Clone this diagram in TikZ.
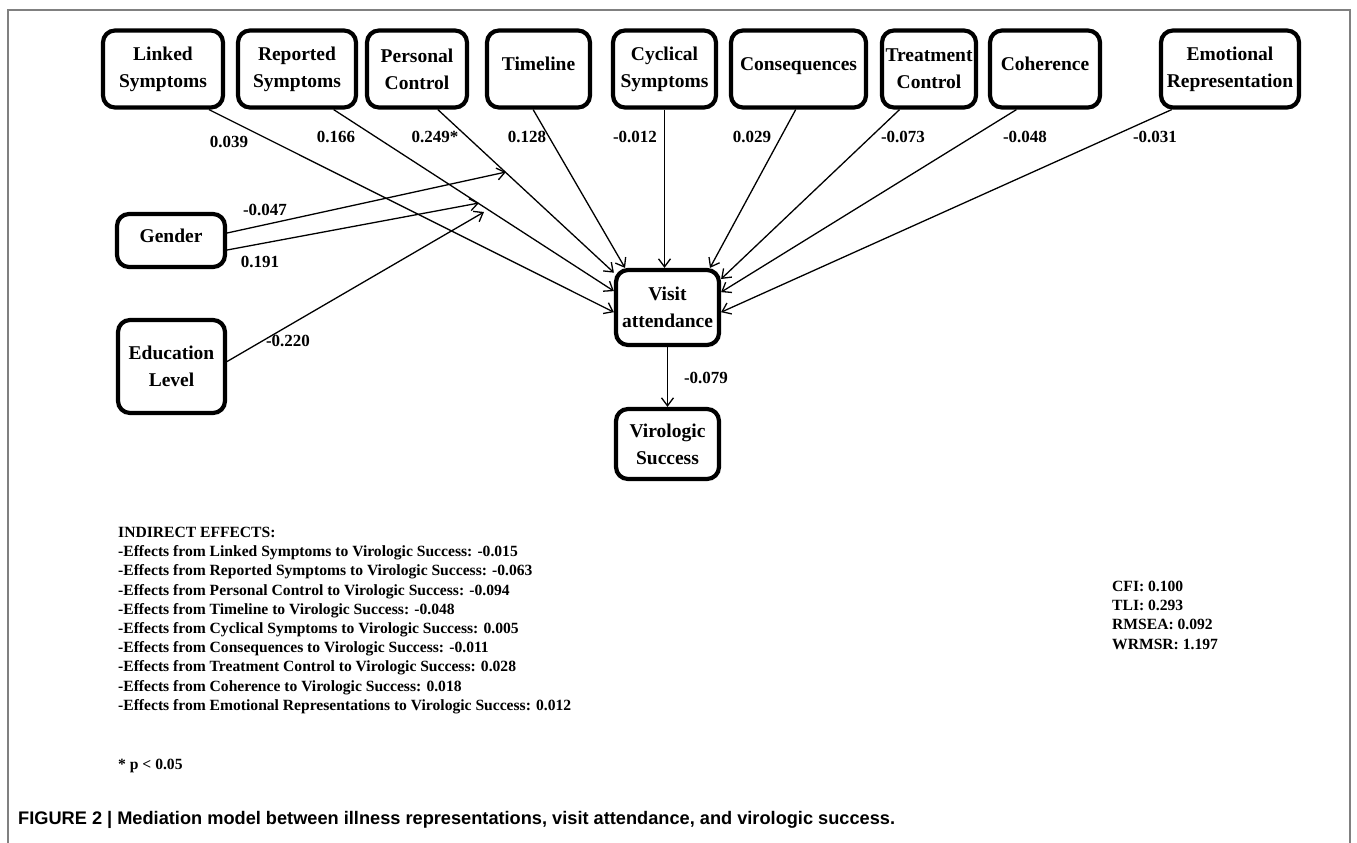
\documentclass[tikz,border=0pt]{standalone}
\usepackage{fontspec}
\setmainfont{Liberation Serif}
\newfontfamily\capfont{Liberation Sans}
\usetikzlibrary{arrows.meta,calc}

\tikzset{
  var/.style={draw, line width=4.2pt, rounded corners=12pt, inner sep=0pt, align=center,
    font=\fontsize{19.5}{27}\selectfont\bfseries, minimum height=77pt},
  oneline/.style={text height=14pt, text depth=11pt},
  coef/.style={font=\fontsize{17}{19}\selectfont\bfseries, inner sep=0pt},
  effect/.style={line width=1.3pt, -{Straight Barb[length=8pt,width=12pt]}},
  notes/.style={font=\fontsize{15.6}{19.2}\selectfont\bfseries, align=left, inner sep=0pt, anchor=north west},
}

\begin{document}
\begin{tikzpicture}[x=1pt,y=-1pt]
	\useasboundingbox (0,0) rectangle (1357,843);
	\draw [line width=2pt, gray] (8,843) -- (8,10) -- (1350,10) -- (1350,843);

	% illness representations
	\node [var, minimum width=120pt] (lnk) at (163,69) {Linked\\Symptoms};
	\node [var, minimum width=118pt] (rep) at (297,69) {Reported\\Symptoms};
	\node [var, minimum width=100pt] (pcon) at (417,69) {Personal\\Control};
	\node [var, oneline, minimum width=103pt] (tim) at (538.5,69) {Timeline};
	\node [var, minimum width=103pt] (cyc) at (664.5,69) {Cyclical\\Symptoms};
	\node [var, oneline, minimum width=135pt] (con) at (798.5,69) {Consequences};
	\node [var, minimum width=94pt] (tcon) at (929,69) {Treatment\\Control};
	\node [var, oneline, minimum width=110pt] (coh) at (1045,69) {Coherence};
	\node [var, minimum width=138pt] (emo) at (1230,69) {Emotional\\Representation};

	% covariates, mediator, outcome
	\node [var, oneline, minimum width=108pt, minimum height=53pt] (gen) at (171,240.5) {Gender};
	\node [var, minimum width=107pt, minimum height=93pt] (edu) at (171.5,366.5) {Education\\Level};
	\node [var, minimum width=103pt, minimum height=75pt] (vis) at (667.5,307.5) {Visit\\attendance};
	\node [var, minimum width=103pt, minimum height=70pt] (vir) at (667.5,444) {Virologic\\Success};

	% paths to visit attendance
	\draw [effect] ($(lnk.south west)!.87!(lnk.south east)$) -- (vis.185);
	\draw [effect] ($(rep.south west)!.80!(rep.south east)$) -- (vis.163);
	\draw [effect] ($(pcon.south west)!.70!(pcon.south east)$) -- (vis.147);
	\draw [effect] ($(tim.south west)!.45!(tim.south east)$) -- (vis.137);
	\draw [effect] (cyc.south) -- (cyc.south |- vis.north);
	\draw [effect] ($(con.south west)!.48!(con.south east)$) -- (vis.43.5);
	\draw [effect] ($(tcon.south west)!.20!(tcon.south east)$) -- (vis.28);
	\draw [effect] ($(coh.south west)!.25!(coh.south east)$) -- (vis.16.7);
	\draw [effect] ($(emo.south west)!.09!(emo.south east)$) -- (vis.-5);
	\draw [effect] (vis.south) -- (vir.north);

	% covariate arrows onto the paths
	\coordinate (pcmod) at (506,172);
	\coordinate (rsmod) at (479,203);
	\coordinate (edmod) at (484,212);
	\draw [effect] ([yshift=7.5pt]gen.east) -- (pcmod);
	\draw [effect] ([yshift=-9.5pt]gen.east) -- (rsmod);
	\draw [effect] ([yshift=5pt]edu.east) -- (edmod);

	% coefficients
	\node [coef] (c1) at (229,142) {0.039};
	\node [coef] (c2) at (336,137) {0.166};
	\node [coef] (c3) at (435,137) {0.249*};
	\node [coef] (c4) at (527,137) {0.128};
	\node [coef] (c5) at (635,137) {-0.012};
	\node [coef] (c6) at (752,137) {0.029};
	\node [coef] (c7) at (903,137) {-0.073};
	\node [coef] (c8) at (1025,137) {-0.048};
	\node [coef] (c9) at (1155,137) {-0.031};
	\node [coef] (g1) at (265,210) {-0.047};
	\node [coef] (g2) at (260,262) {0.191};
	\node [coef] (e1) at (288,341) {-0.220};
	\node [coef] (v1) at (706,378) {-0.079};

	% indirect effects and fit
	\node [notes] (ind) at (118,527) {INDIRECT EFFECTS:\\
		-Effects from Linked Symptoms to Virologic Success: -0.015\\
		-Effects from Reported Symptoms to Virologic Success: -0.063\\
		-Effects from Personal Control to Virologic Success: -0.094\\
		-Effects from Timeline to Virologic Success: -0.048\\
		-Effects from Cyclical Symptoms to Virologic Success: 0.005\\
		-Effects from Consequences to Virologic Success: -0.011\\
		-Effects from Treatment Control to Virologic Success: 0.028\\
		-Effects from Coherence to Virologic Success: 0.018\\
		-Effects from Emotional Representations to Virologic Success: 0.012};
	\node [notes] (fit) at (1112,581) {CFI: 0.100\\TLI: 0.293\\RMSEA: 0.092\\WRMSR: 1.197};
	\node [notes] (sig) at (118,759) {* p < 0.05};

	\node [anchor=base west, inner sep=0pt, font={\capfont\bfseries\fontsize{18.2}{21}\selectfont}] (cap) at (18,824)
		{FIGURE 2 | Mediation model between illness representations, visit attendance, and virologic success.};
\end{tikzpicture}
\end{document}
